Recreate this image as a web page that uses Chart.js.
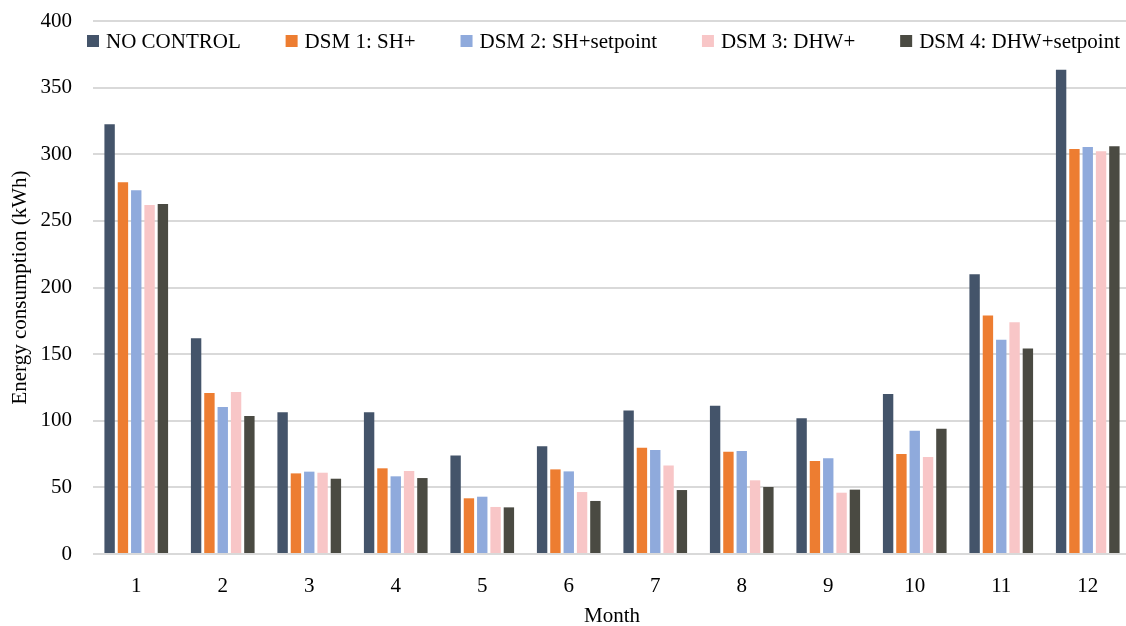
<!DOCTYPE html>
<html>
<head>
<meta charset="utf-8">
<script src="https://cdn.jsdelivr.net/npm/chart.js@4.4.0/dist/chart.umd.min.js"></script>
<style>
  html, body { margin: 0; padding: 0; background: #fff; overflow: hidden; }
  #wrap { width: 1136px; height: 626px; }
</style>
</head>
<body>
<div id="wrap"><canvas id="grafico"></canvas></div>
<script>
// dados
const meses = ['1', '2', '3', '4', '5', '6', '7', '8', '9', '10', '11', '12'];
const semControle = [322.5, 162, 106.3, 106.3, 74, 80.8, 107.6, 111.3, 101.8, 120, 210, 363.5];
const dsm1 = [279, 120.8, 60.5, 64.3, 41.8, 63.5, 79.8, 76.8, 69.8, 75, 179, 304];
const dsm2 = [273, 110.3, 61.8, 58.3, 43, 62, 78, 77.3, 71.8, 92.5, 160.8, 305.4];
const dsm3 = [262, 121.6, 61, 62.3, 35.3, 46.5, 66.5, 55.3, 46, 72.8, 174, 302.2];
const dsm4 = [262.7, 103.6, 56.5, 57, 35, 39.8, 48, 50.3, 48.3, 94, 154.3, 306];
const yTicks = [0, 50, 100, 150, 200, 250, 300, 350, 400];

const fonte = '"Liberation Serif", "Times New Roman", serif';

function serie(label, data, cor) {
    return {
        label: label,
        data: data,
        backgroundColor: cor,
        borderWidth: 0,
        barPercentage: 0.78,
        categoryPercentage: 0.77
    };
}

// legenda desenhada dentro da área do gráfico (como no original)
const legendaInterna = {
    id: 'legendaInterna',
    afterDraw(chart) {
        const ctx = chart.ctx;
        const area = chart.chartArea;
        const caixa = 12;
        const gapTexto = 7;
        const larguraTotal = 1033;
        ctx.save();
        ctx.font = '21px ' + fonte;
        ctx.textBaseline = 'middle';
        const itens = chart.data.datasets.map(ds => ({
            ds: ds,
            w: caixa + gapTexto + ctx.measureText(ds.label).width
        }));
        const soma = itens.reduce((s, i) => s + i.w, 0);
        const gap = (larguraTotal - soma) / (itens.length - 1);
        let x = area.left - 6;
        const y = area.top + 20;
        itens.forEach(i => {
            ctx.fillStyle = i.ds.backgroundColor;
            ctx.fillRect(x, y - caixa / 2, caixa, caixa);
            ctx.fillStyle = '#000';
            ctx.fillText(i.ds.label, x + caixa + gapTexto, y + 1);
            x += i.w + gap;
        });
        ctx.restore();
    }
};

new Chart(document.getElementById('grafico'), {
    type: 'bar',
    data: {
        labels: meses,
        datasets: [
            serie('NO CONTROL', semControle, '#44546A'),
            serie('DSM 1: SH+', dsm1, '#ED7D31'),
            serie('DSM 2: SH+setpoint', dsm2, '#8FAADC'),
            serie('DSM 3: DHW+', dsm3, '#F8C6C7'),
            serie('DSM 4: DHW+setpoint', dsm4, '#4A4A42')
        ]
    },
    plugins: [legendaInterna],
    options: {
        responsive: true,
        maintainAspectRatio: false,
        animation: false,
        layout: { padding: { top: 0, right: 5, bottom: 0, left: 8 } },
        plugins: {
            tooltip: { enabled: false },
            legend: { display: false }
        },
        scales: {
            x: {
                afterFit: (axis) => { axis.height = 72; },
                grid: { display: false, drawTicks: false },
                border: { display: false },
                ticks: { color: '#000', padding: 20, font: { family: fonte, size: 21 } },
                title: {
                    display: true,
                    text: 'Month',
                    color: '#000',
                    font: { family: fonte, size: 21 },
                    padding: { top: 5, bottom: -3 }
                }
            },
            y: {
                min: 0,
                max: 400,
                afterFit: (axis) => {
                    axis.width = 85;
                    axis.paddingTop = 21;
                    axis.paddingBottom = 0;
                },
                afterBuildTicks: (axis) => { axis.ticks = yTicks.map(v => ({ value: v })); },
                grid: { color: '#d9d9d9', lineWidth: 2, drawTicks: false },
                border: { display: false },
                ticks: { color: '#000', padding: 21, font: { family: fonte, size: 21 } },
                title: {
                    display: true,
                    text: 'Energy consumption (kWh)',
                    color: '#000',
                    font: { family: fonte, size: 21 },
                    padding: { top: 0, bottom: 7 }
                }
            }
        }
    }
});
</script>
</body>
</html>
